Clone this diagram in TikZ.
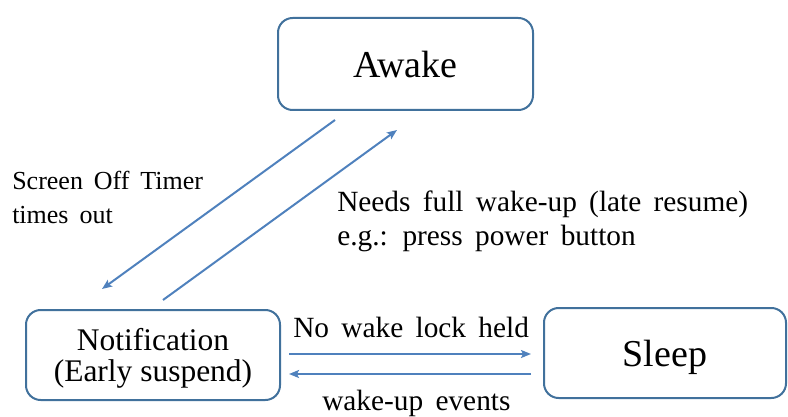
\documentclass[tikz,border=0pt]{standalone}
\usepackage{fontspec}
\setmainfont{Liberation Serif}
\usetikzlibrary{arrows.meta}
\usetikzlibrary{calc}
\usepackage{xcolor}
\definecolor{boxline}{RGB}{65,113,156}
\definecolor{arrline}{RGB}{79,129,189}
\newcommand\widesp{\spaceskip=.42em\relax}

\tikzset{
 state/.style={draw=boxline, line width=1.5pt, rounded corners=11pt, fill=white, inner sep=0pt, text depth=0pt},
 trans/.style={arrline, line width=1.5pt, ->, >={Stealth[length=7.5pt,width=6pt,inset=1.5pt]}},
 lbl/.style={inner sep=0pt, align=left, anchor=base west},
}

\begin{document}
\begin{tikzpicture}[x=0.75pt,y=-0.75pt]
\useasboundingbox (0,0) rectangle (788,417);
% states
\node[state, minimum width=191.25pt, minimum height=69pt, font=\fontsize{28.5}{30}\selectfont] (awake) at (405.5,64) {Awake};
\node[state, minimum width=190.5pt, minimum height=67.5pt, align=center, font=\fontsize{23.6}{23.3}\selectfont] (notif) at (153,355) {Notification\\(Early suspend)};
\node[state, minimum width=181.5pt, minimum height=67.5pt, font=\fontsize{28.5}{30}\selectfont] (sleep) at (665,353) {Sleep};
% transitions
\draw[trans] ($(awake.south)+(-70.5,9)$) -- ($(notif.north)+(-51,-20)$);
\draw[trans] ($(notif.north)+(10,-9)$) -- ($(awake.south)+(-8.5,19)$);
\draw[trans] ($(notif.east)+(8,-1)$) -- ($(sleep.west)+(-12,1)$);
\draw[trans] ($(sleep.west)+(-12,21)$) -- ($(notif.east)+(8,19)$);
% labels (base = last line)
\node[lbl, font={\fontsize{19.5}{25.5}\selectfont\widesp}] (timeout) at (12,223) {Screen Off Timer\\times out};
\node[lbl, font={\fontsize{22}{25.5}\selectfont\widesp}] (fullwake) at (337,245) {Needs full wake-up (late resume)\\e.g.: press power button};
\node[lbl, font={\fontsize{22}{25.5}\selectfont\widesp}] (nolock) at (293,337) {No wake lock held};
\node[lbl, font={\fontsize{22}{25.5}\selectfont\widesp}] (wakeev) at (322,410) {wake-up events};
\end{tikzpicture}
\end{document}
